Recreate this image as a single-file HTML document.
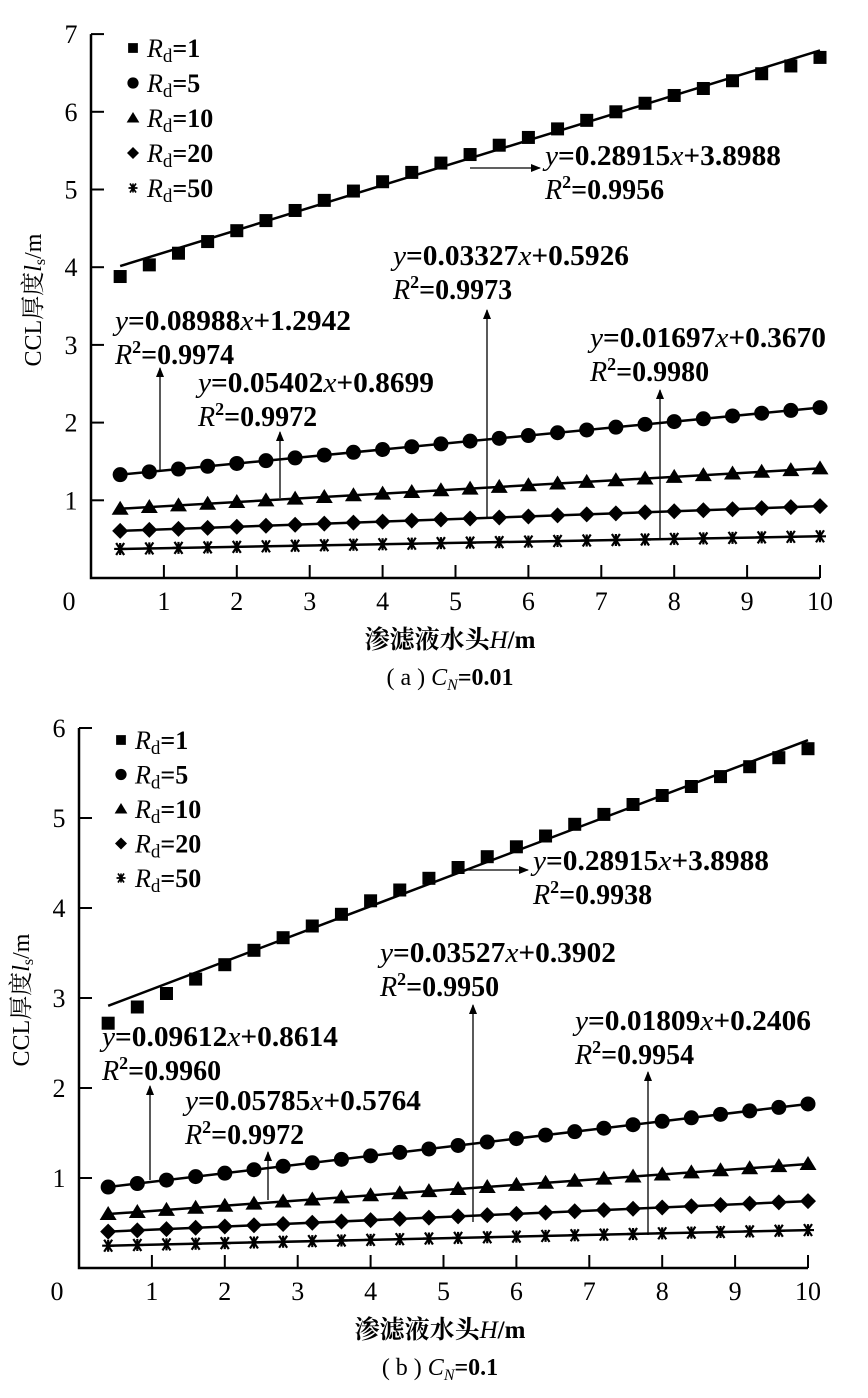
<!DOCTYPE html>
<html><head><meta charset="utf-8"><style>
body{margin:0;background:#fff}
svg{display:block}
text{font-family:"Liberation Serif","Noto Serif CJK SC",serif;fill:#000}
.b{font-weight:bold}
</style></head><body>
<svg id="s" width="868" height="1398" xmlns="http://www.w3.org/2000/svg">
<defs><marker id="ar" markerWidth="10" markerHeight="8" refX="9" refY="4" orient="auto" markerUnits="userSpaceOnUse"><path d="M0,0L10,4L0,8z" fill="#000"/></marker></defs>
<g id="g"></g>
</svg>
<script>
var g=document.getElementById('g'),h='';
function mk(t,x,y){
 if(t==0)return '<rect x="'+(x-6.5)+'" y="'+(y-6.5)+'" width="13" height="13"/>';
 if(t==1)return '<circle cx="'+x+'" cy="'+y+'" r="7.5"/>';
 if(t==2)return '<path d="M'+x+','+(y-8)+'L'+(x+8.5)+','+(y+6)+'L'+(x-8.5)+','+(y+6)+'z"/>';
 if(t==3)return '<path d="M'+x+','+(y-8)+'L'+(x+8)+','+y+'L'+x+','+(y+8)+'L'+(x-8)+','+y+'z"/>';
 return '<path d="M'+(x-6)+','+y+'H'+(x+6)+'M'+(x-4)+','+(y-6)+'L'+(x+4)+','+(y+6)+'M'+(x+4)+','+(y-6)+'L'+(x-4)+','+(y+6)+'M'+x+','+(y-6)+'V'+(y+6)+'" stroke="#000" stroke-width="2.2" fill="none"/>';
}
function chart(o){
 var X=function(v){return o.x0+o.dx*v},Y=function(v){return o.y0-o.dy*v};
 h+='<path d="M'+o.x0+','+Y(o.ymax)+'V'+o.y0+'H'+X(10)+'" stroke="#000" stroke-width="2.5" fill="none"/>';
 for(var i=1;i<=o.ymax;i++){h+='<line x1="'+o.x0+'" x2="'+(o.x0+13)+'" y1="'+Y(i)+'" y2="'+Y(i)+'" stroke="#000" stroke-width="2"/>';
  h+='<text x="'+(o.x0-20)+'" y="'+(Y(i)+9)+'" font-size="26" text-anchor="middle">'+i+'</text>';}
 h+='<text x="'+(o.x0-22)+'" y="'+(o.y0+32)+'" font-size="26" text-anchor="middle">0</text>';
 for(var i=1;i<=10;i++){h+='<line x1="'+X(i)+'" x2="'+X(i)+'" y1="'+o.y0+'" y2="'+(o.y0-13)+'" stroke="#000" stroke-width="2"/>';
  h+='<text x="'+X(i)+'" y="'+(o.y0+32)+'" font-size="26" text-anchor="middle">'+i+'</text>';}
 o.s.forEach(function(s,k){
  h+='<line x1="'+X(0.4)+'" y1="'+Y(s.a*0.4+s.b)+'" x2="'+X(10)+'" y2="'+Y(s.a*10+s.b)+'" stroke="#000" stroke-width="2.5"/>';
  for(var j=0;j<25;j++){var xv=0.4*(j+1);var yv=s.p?s.p[j]:s.a*xv+s.b;h+=mk(k,X(xv),Y(yv));}
 });
 var L=['1','5','10','20','50'];
 for(var k=0;k<5;k++){var ly=o.ly+k*o.lg;h+='<g transform="translate('+o.lx+','+ly+') scale(0.75) translate('+(-o.lx)+','+(-ly)+')">'+mk(k,o.lx,ly)+'</g>';
  h+='<text x="'+(o.lx+14)+'" y="'+(ly+9)+'" font-size="26" class="b"><tspan font-style="italic" font-weight="normal">R</tspan><tspan font-size="19" dy="5" font-weight="normal">d</tspan><tspan dy="-5">='+L[k]+'</tspan></text>';}
 o.an.forEach(function(a){
  h+='<line x1="'+a[0]+'" y1="'+a[1]+'" x2="'+a[2]+'" y2="'+a[3]+'" stroke="#000" stroke-width="1.3" marker-end="url(#ar)"/>';
  h+='<text x="'+a[4]+'" y="'+a[5]+'" font-size="28" class="b" textLength="'+236+'" lengthAdjust="spacingAndGlyphs"><tspan font-style="italic" font-weight="normal">y</tspan>='+a[6]+'<tspan font-style="italic" font-weight="normal">x</tspan>+'+a[7]+'</text>';
  h+='<text x="'+a[4]+'" y="'+(a[5]+34)+'" font-size="28" class="b"><tspan font-style="italic" font-weight="normal">R</tspan><tspan font-size="18" dy="-11">2</tspan><tspan dy="11">='+a[8]+'</tspan></text>';
 });
 h+='<text x="'+o.xl+'" y="'+(o.y0+70)+'" font-size="25" class="b" text-anchor="middle">渗滤液水头<tspan font-style="italic" font-weight="normal">H</tspan>/m</text>';
 h+='<text transform="translate('+(o.x0-50)+','+o.yl+') rotate(-90)" font-size="24" text-anchor="middle">CCL厚度<tspan font-style="italic">l</tspan><tspan font-size="16" dy="4">s</tspan><tspan dy="-4">/m</tspan></text>';
 h+='<text x="'+o.xl+'" y="'+(o.y0+107)+'" font-size="24" text-anchor="middle">'+o.lab+' <tspan font-style="italic">C</tspan><tspan font-style="italic" font-size="16" dy="5">N</tspan><tspan dy="-5" class="b">='+o.cn+'</tspan></text>';
}
chart({x0:91,dx:72.9,y0:578,dy:77.7,ymax:7,lx:133,ly:48,lg:35,xl:450,yl:300,cn:'0.01',lab:'( a )',
 s:[{a:0.28915,b:3.8988,p:[3.88,4.03,4.18,4.33,4.47,4.6,4.73,4.86,4.98,5.1,5.22,5.34,5.45,5.57,5.67,5.78,5.89,6.0,6.11,6.21,6.3,6.4,6.49,6.59,6.7]},
  {a:0.08988,b:1.2942},{a:0.05402,b:0.8699},{a:0.03327,b:0.5926},{a:0.01697,b:0.367}],
 an:[[470,168,540,168,545,165,'0.28915','3.8988','0.9956'],
  [160,470,160,368,115,330,'0.08988','1.2942','0.9974'],
  [280,498,280,432,198,392,'0.05402','0.8699','0.9972'],
  [487,518,487,310,393,265,'0.03327','0.5926','0.9973'],
  [660,540,660,390,590,347,'0.01697','0.3670','0.9980']]});
chart({x0:79,dx:72.9,y0:1268,dy:90,ymax:6,lx:121,ly:740,lg:34.5,xl:440,yl:1000,cn:'0.1',lab:'( b )',
 s:[{a:0.3075,b:2.79,p:[2.72,2.9,3.05,3.21,3.37,3.53,3.67,3.8,3.93,4.08,4.2,4.33,4.45,4.57,4.68,4.8,4.93,5.04,5.15,5.25,5.35,5.46,5.57,5.67,5.77]},
  {a:0.09612,b:0.8614},{a:0.05785,b:0.5764},{a:0.03527,b:0.3902},{a:0.01809,b:0.2406}],
 an:[[455,870,528,870,533,870,'0.28915','3.8988','0.9938'],
  [150,1180,150,1086,102,1046,'0.09612','0.8614','0.9960'],
  [268,1200,268,1152,185,1110,'0.05785','0.5764','0.9972'],
  [473,1222,473,1005,380,962,'0.03527','0.3902','0.9950'],
  [648,1235,648,1072,575,1030,'0.01809','0.2406','0.9954']]});
g.innerHTML=h;
</script>
</body></html>
